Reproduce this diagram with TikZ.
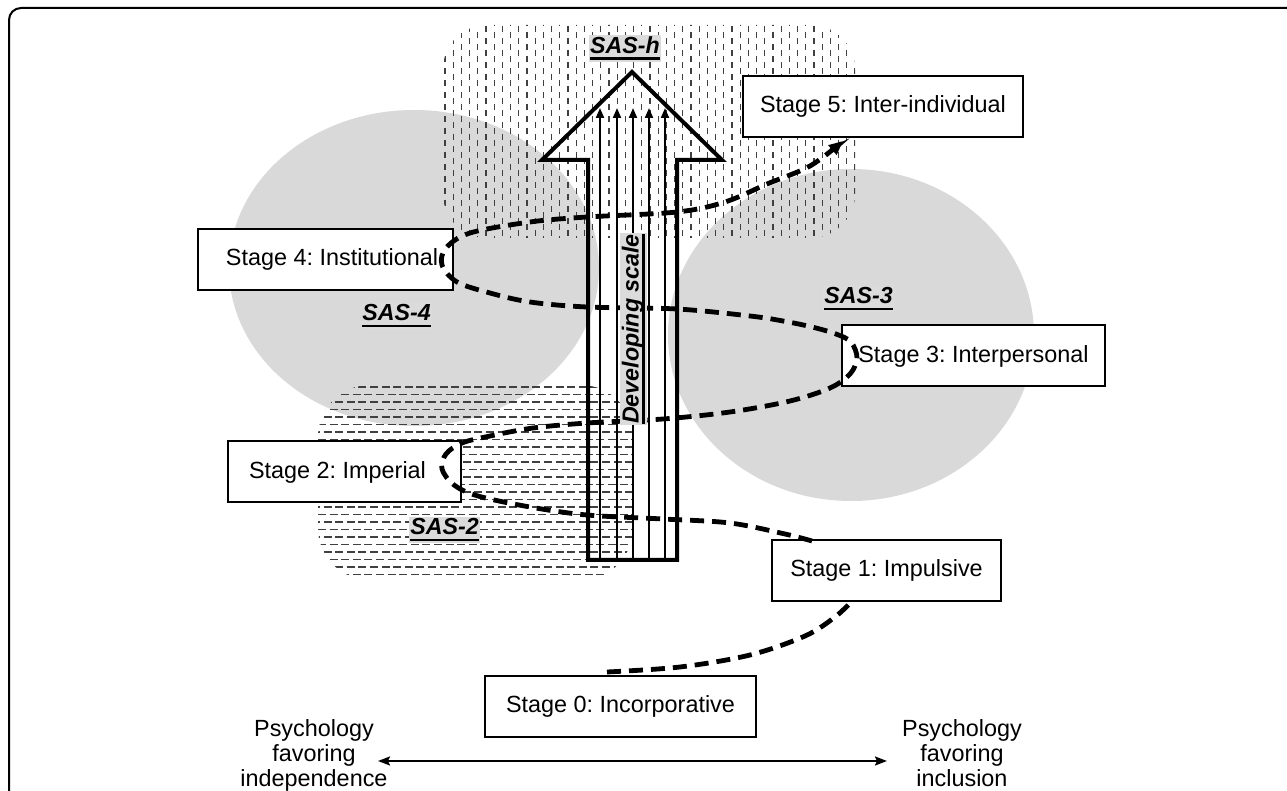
\documentclass[tikz,border=0pt]{standalone}
\usepackage{fontspec}
\setmainfont{Liberation Sans}
\usetikzlibrary{arrows.meta}
\frenchspacing
\newcommand\ulbox[1]{\setbox0\hbox{#1}\rlap{\rule[-3.3pt]{\wd0}{1.4pt}}\box0}
\definecolor{sasgray}{gray}{0.85}
\definecolor{labelbg}{gray}{0.86}
\definecolor{hatchc}{gray}{0.25}
\begin{document}
\begin{tikzpicture}[x=0.5pt,y=-0.5pt,
  txt/.style={font=\fontsize{11.7}{12.5}\selectfont},
  stagebox/.style={txt, draw, fill=white, line width=1pt, inner sep=0pt, minimum height=30.5pt},
  saslabel/.style={fill=labelbg, inner xsep=0.8pt, inner ysep=0.8pt, font=\fontsize{11.6}{14}\selectfont\bfseries\itshape},
  hatchv/.style={draw=hatchc, line width=0.6pt, dash pattern=on 3.2pt off 2.8pt},
  hatchh/.style={draw=hatchc, line width=0.65pt, dash pattern=on 4pt off 1.8pt},
  bigarrow/.style={draw, line width=2pt, line join=miter},
  scalearrow/.style={draw, line width=1pt, -{Triangle[length=5pt,width=4pt]}},
  dashcurve/.style={draw, line width=2.4pt, dash pattern=on 7pt off 4pt},
  dblarrow/.style={draw, line width=1pt, {Stealth[length=6pt,width=4.5pt,inset=1pt]}-{Stealth[length=6pt,width=4.5pt,inset=1pt]}},
  bottomtext/.style={txt, align=center, inner sep=0pt, anchor=north}]
\useasboundingbox (0,0) rectangle (1287,791);
\clip (0,0) rectangle (1287,791);
\fill[white] (0,0) rectangle (1287,791);
\draw[line width=1pt, rounded corners=6pt] (9,8) rectangle (1320,820);

% gray regions
\fill[sasgray] (414,268) ellipse [x radius=185, y radius=158];
\fill[sasgray] (851,335) ellipse [x radius=183, y radius=166];

% SAS-h vertical hatch
\begin{scope}
\clip[rounded corners=22pt] (443,25) rectangle (855,238);
\foreach \x in {445,461.4,...,857} \draw[hatchv] (\x,20) -- (\x,245);
\foreach \x in {453.2,469.6,...,857} \draw[hatchv] (\x,26) -- (\x,245);
\end{scope}

% SAS-2 horizontal hatch
\begin{scope}
\clip[rounded corners=26pt] (318,385) rectangle (633,580);
\foreach \y in {387,402,...,582} \draw[hatchh] (312,\y) -- (640,\y);
\foreach \y in {394.5,409.5,...,582} \draw[hatchh] (318,\y) -- (640,\y);
\end{scope}

% big arrow
\draw[bigarrow] (588,560) -- (588,160) -- (542,160) -- (632,72) -- (722,160) -- (677,160) -- (677,560) -- cycle;
\foreach \x in {600,617,633,649,665} \draw[scalearrow] (\x,560) -- (\x,108);

% stage boxes
\node[stagebox, minimum width=140pt] (s5) at (883,106.5) {Stage 5: Inter-individual};
\node[stagebox, minimum width=127.5pt] (s4) at (325.5,259.5) {\hspace*{6.5pt}Stage 4: Institutional};
\node[stagebox, minimum width=131.5pt] (s3) at (973.5,356) {Stage 3: Interpersonal};
\node[stagebox, minimum width=116.5pt] (s2) at (344.5,472) {Stage 2: Imperial\hspace*{7pt}};
\node[stagebox, minimum width=114.5pt] (s1) at (886.5,570.5) {Stage 1: Impulsive};
\node[stagebox, minimum width=135.5pt] (s0) at (620.5,706.5) {Stage 0: Incorporative};

% dashed developmental path
\draw[dashcurve] plot[smooth, tension=0.55] coordinates {(607,672) (680,667) (750,655) (805,636) (835,617) (851,602)};
\draw[dashcurve, -{Triangle[length=7pt,width=6pt]}] plot[smooth, tension=0.55] coordinates {
 (812,541) (785,534) (730,523) (663,519) (587,515) (530,507) (478,496) (454,485) (442,469) (446,454) (462,443) (490,436) (533,428) (587,423) (663,419) (730,412) (790,401) (830,388) (850,374) (857,358) (851,342) (836,334) (812,327) (783,321) (750,316) (677,309) (587,307) (530,302) (490,293) (457,282) (442,265) (446,248) (470,233) (530,222) (587,217) (677,212) (725,202) (767,184) (810,166) (843,141)};

% labels
\node[saslabel, rotate=90] (dev) at (633.5,329) {\ulbox{Developing scale}};
\node[saslabel] (sash) at (625,48.5) {\ulbox{SAS-h}};
\node[saslabel] (sas4) at (396.5,316) {\ulbox{SAS-4}};
\node[saslabel] (sas3) at (858.5,299) {\ulbox{SAS-3}};
\node[saslabel] (sas2) at (444.5,530) {\ulbox{SAS-2}};

% bottom axis
\node[bottomtext] (indep) at (314,719.5) {Psychology\\favoring\\independence};
\node[bottomtext] (incl) at (962,719.5) {Psychology\\favoring\\inclusion};
\coordinate (al) at (378,761);
\coordinate (ar) at (887,761);
\draw[dblarrow] (al) -- (ar);
\end{tikzpicture}
\end{document}
